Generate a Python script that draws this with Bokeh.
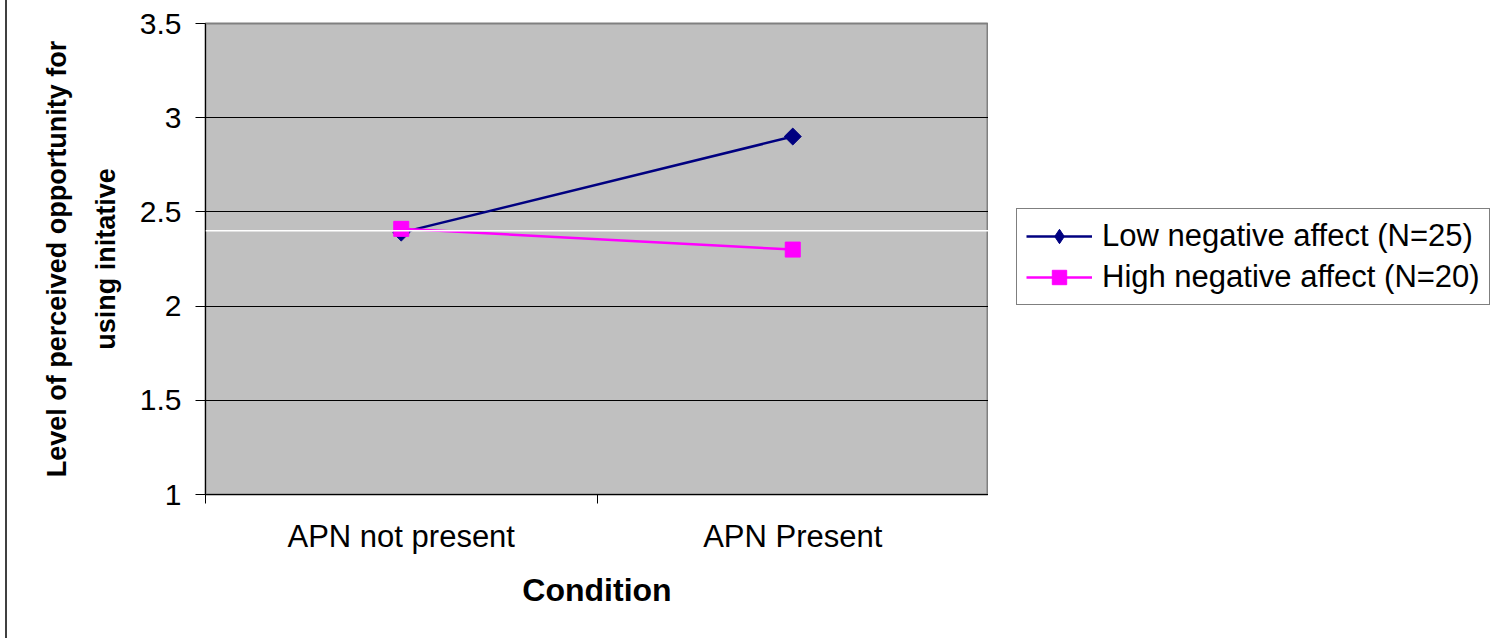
import math
from bokeh.plotting import figure
from bokeh.models import (Range1d, FixedTicker, Span, Legend, LegendItem, ColumnDataSource,
                          Div, Spacer)
from bokeh.layouts import row
from bokeh.embed import file_html
from bokeh.resources import INLINE

# ---- data ----
conditions = ["APN not present", "APN Present"]
low_neg = [2.39, 2.90]
high_neg = [2.41, 2.30]
series_names = ["Low negative affect (N=25)", "High negative affect (N=20)"]
y_ticks = [1, 1.5, 2, 2.5, 3, 3.5]
ref_level = 2.4
x_title = "Condition"
y_title = "Level of perceived opportunity for\nusing initative"

FONT = "Liberation Sans"
EDGE = 7          # left border strip
LEG_W = 505       # legend panel width
H = 638

xs = [i + 0.5 for i in range(len(conditions))]
src = ColumnDataSource(dict(x=xs, low=low_neg, high=high_neg))

p = figure(width=1493 - EDGE - LEG_W, height=H,
           x_range=Range1d(0, len(conditions)), y_range=Range1d(y_ticks[0], y_ticks[-1]),
           output_backend="svg", toolbar_location=None,
           min_border_left=205 - EDGE, min_border_right=0, min_border_top=23, min_border_bottom=144,
           margin=0)

p.background_fill_color = "#C0C0C0"
p.border_fill_color = "white"
p.outline_line_color = "#808080"
p.outline_line_width = 2

# grid
p.xgrid.visible = False
p.ygrid.ticker = FixedTicker(ticks=y_ticks)
p.ygrid.grid_line_color = "black"
p.ygrid.grid_line_width = 1

# reference line
p.add_layout(Span(location=ref_level, dimension="width", line_color="white", line_width=1.5))

# x axis
xa = p.xaxis[0]
xa.ticker = FixedTicker(ticks=xs, minor_ticks=list(range(len(conditions) + 1)))
xa.major_label_overrides = {x: c for x, c in zip(xs, conditions)}
xa.major_tick_out = 0
xa.major_tick_in = 0
xa.minor_tick_out = 9
xa.minor_tick_in = 0
xa.minor_tick_line_color = "black"
xa.axis_line_color = "black"
xa.major_label_text_font = FONT
xa.major_label_text_font_size = "31px"
xa.major_label_text_color = "black"
xa.major_label_standoff = 15
xa.axis_label = x_title
xa.axis_label_text_font = FONT
xa.axis_label_text_font_size = "32px"
xa.axis_label_text_font_style = "bold"
xa.axis_label_text_color = "black"
xa.axis_label_standoff = 15

# y axis
ya = p.yaxis[0]
ya.ticker = FixedTicker(ticks=y_ticks)
ya.major_label_overrides = {t: (str(int(t)) if float(t).is_integer() else str(t)) for t in y_ticks}
ya.major_tick_out = 10
ya.major_tick_in = 0
ya.minor_tick_line_color = None
ya.axis_line_color = "black"
ya.major_label_text_font = FONT
ya.major_label_text_font_size = "30px"
ya.major_label_text_color = "black"
ya.major_label_standoff = 14
ya.axis_label = y_title
ya.axis_label_text_font = FONT
ya.axis_label_text_font_size = "27px"
ya.axis_label_text_font_style = "bold"
ya.axis_label_text_color = "black"
ya.axis_label_text_line_height = 1.63
ya.axis_label_standoff = 16

LOW_COLOR = "#000080"
HIGH_COLOR = "#FF00FF"


def draw_series(fig, for_legend=False):
    l1 = fig.line("x", "low", source=src, line_color=LOW_COLOR, line_width=2.5)
    if for_legend:
        m1 = fig.scatter("x", "low", source=src, marker="diamond", size=19,
                         fill_color=LOW_COLOR, line_color=LOW_COLOR)
    else:
        m1 = fig.scatter("x", "low", source=src, marker="square", angle=math.pi / 4, size=12,
                         fill_color=LOW_COLOR, line_color=LOW_COLOR)
    l2 = fig.line("x", "high", source=src, line_color=HIGH_COLOR, line_width=2.5)
    m2 = fig.scatter("x", "high", source=src, marker="square", size=15,
                     fill_color=HIGH_COLOR, line_color=HIGH_COLOR)
    return l1, m1, l2, m2


draw_series(p)

# ---- legend panel (separate canvas to the right; its frame is aligned with the plot's) ----
lf = figure(width=LEG_W, height=H, x_range=Range1d(-10, -9), y_range=Range1d(-10, -9),
            output_backend="svg", toolbar_location=None, x_axis_type=None, y_axis_type=None,
            min_border=0, margin=0)
lf.grid.visible = False
lf.outline_line_color = None
lf.background_fill_color = "white"
lf.border_fill_color = "white"
g1, g2, g3, g4 = draw_series(lf, for_legend=True)  # out of view here; used only for legend glyphs

legend = Legend(items=[LegendItem(label=series_names[0], renderers=[g1, g2]),
                       LegendItem(label=series_names[1], renderers=[g3, g4])],
                location=(28, 189))
legend.label_text_font = FONT
legend.label_text_font_size = "31px"
legend.label_text_color = "black"
legend.glyph_width = 66
legend.glyph_height = 36
legend.label_height = 36
legend.label_standoff = 10
legend.spacing = 5
legend.padding = 9
legend.margin = 0
legend.border_line_color = "black"
legend.border_line_width = 1
legend.background_fill_color = "white"
legend.background_fill_alpha = 1
lf.add_layout(legend)

# left border of the chart area
edge = row(Spacer(width=5, height=H, margin=0),
           Div(text="", width=2, height=H, margin=0, styles={"background-color": "#404040"}),
           margin=0)
layout = row(edge, p, lf, margin=0)

open("out.html", "w").write(file_html(layout, INLINE))
